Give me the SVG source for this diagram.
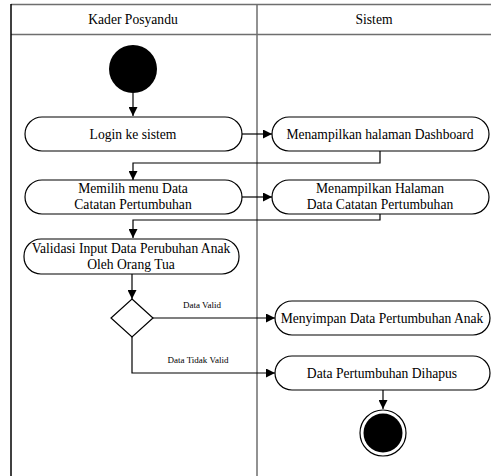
<svg xmlns="http://www.w3.org/2000/svg" width="491" height="476" viewBox="0 0 491 476">
  <style>
    .lane { fill: none; stroke: #6e6e6e; stroke-width: 1.5; }
    .edge { fill: none; stroke: #000; stroke-width: 1.5; }
    .act { fill: #fff; stroke: #000; stroke-width: 1.2; }
    text { font-family: 'Liberation Serif', 'DejaVu Serif', serif; fill: #000; text-anchor: middle; }
    .lbl { font-size: 13.6px; }
    .small { font-size: 9px; }
    .conn { fill: none; stroke: #000; stroke-width: 1.2; }
  </style>
  <defs>
    <marker id="arrow" viewBox="0 0 10 10" refX="10" refY="5" markerWidth="9" markerHeight="9" markerUnits="userSpaceOnUse" orient="auto">
      <path d="M0,0 L10,5 L0,10 Z" fill="#000"/>
    </marker>
  </defs>

  <rect width="491" height="476" fill="#fff"/>

  <!-- swimlanes -->
  <g id="lanes">
    <line x1="11" y1="4.5" x2="491" y2="4.5" class="lane"/>
    <line x1="11" y1="34.5" x2="491" y2="34.5" class="lane"/>
    <line x1="11" y1="4" x2="11" y2="476" class="edge"/>
    <line x1="257" y1="4" x2="257" y2="476" class="lane"/>
    <text x="133" y="24" class="lbl">Kader Posyandu</text>
    <text x="374" y="24" class="lbl">Sistem</text>
  </g>

  <!-- connectors -->
  <g id="connectors">
    <line x1="133" y1="93" x2="133" y2="116" class="conn" marker-end="url(#arrow)"/>
    <line x1="242" y1="134" x2="272" y2="134" class="conn" marker-end="url(#arrow)"/>
    <polyline points="380,151 380,163 133,163 133,180" class="conn" marker-end="url(#arrow)"/>
    <line x1="242" y1="197" x2="272" y2="197" class="conn" marker-end="url(#arrow)"/>
    <polyline points="380,214 380,220 133,220 133,238" class="conn" marker-end="url(#arrow)"/>
    <line x1="132" y1="274" x2="132" y2="299" class="conn" marker-end="url(#arrow)"/>
    <line x1="153" y1="318" x2="275" y2="318" class="conn" marker-end="url(#arrow)"/>
    <text x="202" y="308" class="small">Data Valid</text>
    <polyline points="132,337 132,373 275,373" class="conn" marker-end="url(#arrow)"/>
    <text x="198" y="363" class="small">Data Tidak Valid</text>
    <line x1="383" y1="390" x2="383" y2="409" class="conn" marker-end="url(#arrow)"/>
  </g>

  <!-- nodes -->
  <g id="start">
    <circle cx="133" cy="69" r="24" fill="#000"/>
  </g>

  <g id="login">
    <rect x="25" y="117" width="217" height="34" rx="17" class="act"/>
    <text x="133" y="139" class="lbl">Login ke sistem</text>
  </g>

  <g id="dashboard">
    <rect x="272" y="117" width="217" height="34" rx="17" class="act"/>
    <text x="380" y="139" class="lbl">Menampilkan halaman Dashboard</text>
  </g>

  <g id="pilih-menu">
    <rect x="25" y="180" width="217" height="34" rx="17" class="act"/>
    <text x="133" y="193" class="lbl">Memilih menu Data</text>
    <text x="133" y="209" class="lbl">Catatan Pertumbuhan</text>
  </g>

  <g id="halaman-catatan">
    <rect x="272" y="180" width="217" height="34" rx="17" class="act"/>
    <text x="380" y="193" class="lbl">Menampilkan Halaman</text>
    <text x="380" y="209" class="lbl">Data Catatan Pertumbuhan</text>
  </g>

  <g id="validasi">
    <rect x="24" y="239" width="215" height="35" rx="17" class="act"/>
    <text x="131" y="253" class="lbl">Validasi Input Data Perubuhan Anak</text>
    <text x="131" y="269" class="lbl">Oleh Orang Tua</text>
  </g>

  <g id="keputusan">
    <polygon points="132,299 153,318 132,337 111,318" class="act"/>
  </g>

  <g id="simpan">
    <rect x="275" y="301" width="215" height="34" rx="17" class="act"/>
    <text x="382" y="323" class="lbl">Menyimpan Data Pertumbuhan Anak</text>
  </g>

  <g id="hapus">
    <rect x="275" y="356" width="215" height="34" rx="17" class="act"/>
    <text x="382" y="378" class="lbl">Data Pertumbuhan Dihapus</text>
  </g>

  <g id="end">
    <circle cx="383" cy="433" r="23" fill="#fff" stroke="#000" stroke-width="1.2"/>
    <circle cx="383" cy="433" r="19.5" fill="#000"/>
  </g>
</svg>
